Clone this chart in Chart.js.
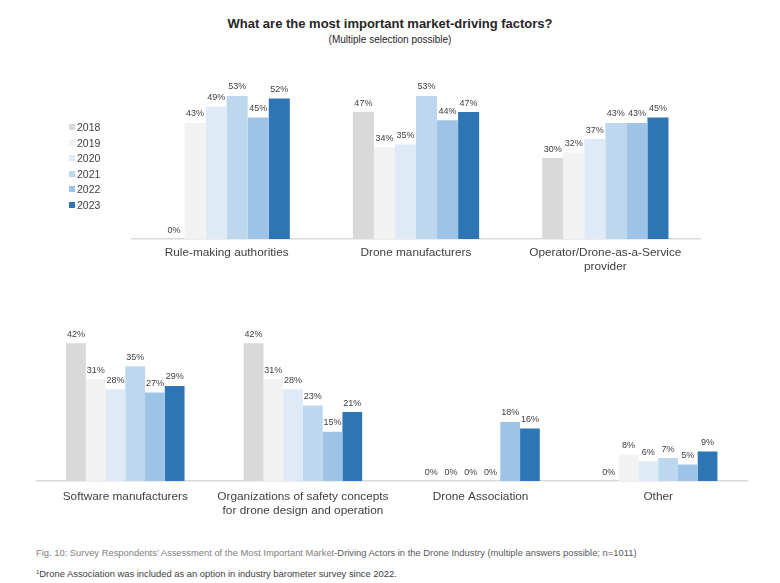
<!DOCTYPE html>
<html>
<head>
<meta charset="utf-8">
<script src="https://cdn.jsdelivr.net/npm/chart.js@4.4.1/dist/chart.umd.min.js"></script>
<style>
  html, body { margin: 0; padding: 0; background: #ffffff; }
  #wrap { position: relative; width: 780px; height: 583px; overflow: hidden;
          font-family: "Liberation Sans", Arial, sans-serif; color: #404040; background: #fff; }
  #title { position: absolute; left: 0; width: 780px; top: 16px; text-align: center;
           font-weight: bold; font-size: 13px; line-height: 16px; color: #262626; }
  #subtitle { position: absolute; left: 0; width: 780px; top: 34px; text-align: center;
              font-size: 10px; line-height: 12px; color: #262626; }
  canvas { position: absolute; left: 0; }
  #cTop { top: 0; }
  #cBottom { top: 300px; }
  #legend { position: absolute; left: 69px; top: 120px; }
  .li { position: absolute; left: 0; height: 14px; line-height: 14px; font-size: 10.5px; white-space: nowrap; color: #404040; }
  .li span.sq { position: absolute; left: 0; top: 4px; width: 6px; height: 6px; }
  .li span.tx { position: absolute; left: 8px; top: 0; }
  #cap1 { position: absolute; left: 36px; top: 547px; font-size: 9.4px; line-height: 11px; color: #7f7f7f; white-space: nowrap; }
  #cap1 .dk { color: #595959; }
  #cap2 { position: absolute; left: 36px; top: 568px; font-size: 9.4px; line-height: 11px; color: #404040; white-space: nowrap; }
  #cap2 sup { font-size: 6px; vertical-align: 3px; line-height: 0; }
</style>
</head>
<body>
<div id="wrap">
  <div id="title">What are the most important market-driving factors?</div>
  <div id="subtitle">(Multiple selection possible)</div>
  <canvas id="cTop" width="780" height="290" style="width:780px;height:290px"></canvas>
  <canvas id="cBottom" width="780" height="230" style="width:780px;height:230px"></canvas>
  <div id="legend"></div>
  <div id="cap1">Fig. 10: Survey Respondents’ Assessment of the Most Important Market<span class="dk">-Driving Actors in the Drone Industry (multiple answers possible; n=1011)</span></div>
  <div id="cap2"><sup>1</sup>Drone Association was included as an option in industry barometer survey since 2022.</div>
</div>
<script>
// ---- Data ----
const years = ['2018', '2019', '2020', '2021', '2022', '2023'];
const yearColors = ['#D9D9D9', '#F2F2F2', '#DEEBF7', '#BDD7EE', '#9DC3E6', '#2E75B6'];

const topCategories = ['Rule-making authorities', 'Drone manufacturers', ['Operator/Drone-as-a-Service', 'provider']];
const top2018 = [0, 47, 30];
const top2019 = [43, 34, 32];
const top2020 = [49, 35, 37];
const top2021 = [53, 53, 43];
const top2022 = [45, 44, 43];
const top2023 = [52, 47, 45];

const bottomCategories = ['Software manufacturers', ['Organizations of safety concepts', 'for drone design and operation'], 'Drone Association', 'Other'];
const bottom2018 = [42, 42, 0, 0];
const bottom2019 = [31, 31, 0, 8];
const bottom2020 = [28, 28, 0, 6];
const bottom2021 = [35, 23, 0, 7];
const bottom2022 = [27, 15, 18, 5];
const bottom2023 = [29, 21, 16, 9];

const topSeries = [top2018, top2019, top2020, top2021, top2022, top2023];
const bottomSeries = [bottom2018, bottom2019, bottom2020, bottom2021, bottom2022, bottom2023];

// ---- Legend ----
const legendEl = document.getElementById('legend');
years.forEach((y, i) => {
  const d = document.createElement('div');
  d.className = 'li';
  d.style.top = (i * 15.5) + 'px';
  d.innerHTML = '<span class="sq" style="background:' + yearColors[i] + '"></span><span class="tx">' + y + '</span>';
  legendEl.appendChild(d);
});

// ---- Value labels plugin ----
const FONT = '"Liberation Sans", Arial, sans-serif';
const valueLabels = {
  id: 'valueLabels',
  afterDatasetsDraw(chart) {
    const ctx = chart.ctx;
    ctx.save();
    ctx.font = '9px ' + FONT;
    ctx.fillStyle = '#404040';
    ctx.textAlign = 'center';
    ctx.textBaseline = 'alphabetic';
    chart.data.datasets.forEach((ds, i) => {
      const meta = chart.getDatasetMeta(i);
      meta.data.forEach((el, j) => {
        const v = ds.data[j];
        if (v === null || v === undefined) return;
        ctx.fillText(v + '%', el.x, el.y - 6.5);
      });
    });
    ctx.restore();
  }
};

function makeDatasets(series) {
  return series.map((vals, i) => ({
    label: years[i],
    data: vals,
    backgroundColor: yearColors[i],
    borderWidth: 0,
    categoryPercentage: 0.667,
    barPercentage: 1.0
  }));
}

function makeOptions(yMax, padding, labelPad) {
  return {
    responsive: false,
    animation: false,
    devicePixelRatio: 1,
    layout: { padding: padding },
    plugins: { legend: { display: false }, tooltip: { enabled: false }, title: { display: false } },
    scales: {
      x: {
        grid: { display: false, drawTicks: false },
        border: { display: true, color: '#D9D9D9', width: 1.5 },
        ticks: {
          color: '#404040',
          font: { family: FONT, size: 11.8, lineHeight: 1.2 },
          padding: labelPad,
          maxRotation: 0,
          autoSkip: false
        },
        afterFit(scale) { scale.height = 40; }
      },
      y: { display: false, min: 0, max: yMax }
    }
  };
}

new Chart(document.getElementById('cTop'), {
  type: 'bar',
  data: { labels: topCategories, datasets: makeDatasets(topSeries) },
  options: makeOptions(60, { left: 132, right: 80, top: 77, bottom: 11 }, 7),
  plugins: [valueLabels]
});

new Chart(document.getElementById('cBottom'), {
  type: 'bar',
  data: { labels: bottomCategories, datasets: makeDatasets(bottomSeries) },
  options: makeOptions(45, { left: 36.5, right: 33, top: 33.4, bottom: 9 }, 9),
  plugins: [valueLabels]
});
</script>
</body>
</html>
